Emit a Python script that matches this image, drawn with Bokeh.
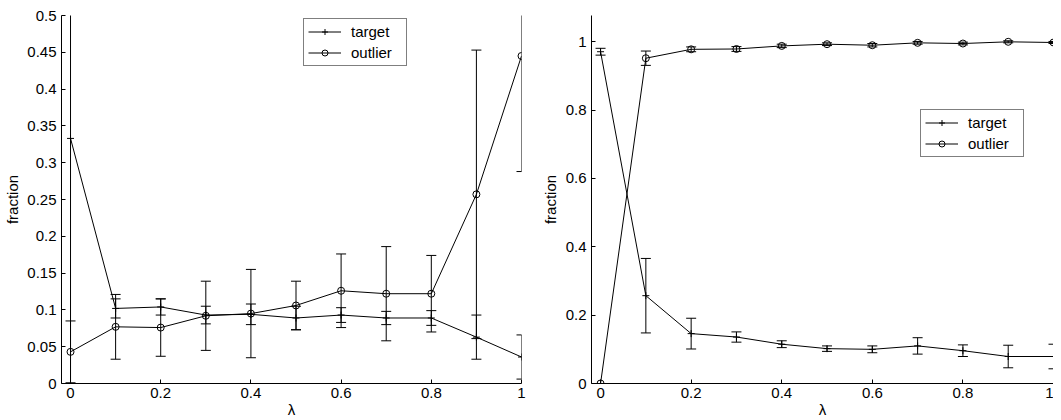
from bokeh.plotting import figure
from bokeh.layouts import row
from bokeh.models import FixedTicker, Legend, LegendItem, ColumnDataSource
from bokeh.embed import file_html
from bokeh.resources import INLINE

# ---------------- data ----------------
lam = [0, 0.1, 0.2, 0.3, 0.4, 0.5, 0.6, 0.7, 0.8, 0.9, 1.0]

left_target = [0.333, 0.102, 0.104, 0.093, 0.094, 0.089, 0.093, 0.089, 0.089, 0.063, 0.036]
left_target_err = [0.35, 0.013, 0.011, 0.012, 0.014, 0.016, 0.010, 0.009, 0.010, 0.030, 0.030]
left_outlier = [0.043, 0.077, 0.076, 0.092, 0.095, 0.106, 0.126, 0.122, 0.122, 0.257, 0.445]
left_outlier_err = [0.042, 0.044, 0.039, 0.047, 0.060, 0.033, 0.050, 0.064, 0.052, 0.196, 0.157]

right_target = [0.971, 0.257, 0.146, 0.136, 0.115, 0.102, 0.100, 0.110, 0.096, 0.079, 0.079]
right_target_err = [0.010, 0.109, 0.045, 0.015, 0.010, 0.008, 0.010, 0.024, 0.017, 0.033, 0.036]
right_outlier = [0.0, 0.952, 0.978, 0.979, 0.988, 0.993, 0.990, 0.997, 0.995, 1.0, 0.998]
right_outlier_err = [0.0, 0.021, 0.007, 0.007, 0.005, 0.004, 0.005, 0.004, 0.004, 0.003, 0.003]

x_ticks = [0, 0.2, 0.4, 0.6, 0.8, 1]
x_tick_labels = ["0", "0.2", "0.4", "0.6", "0.8", "1"]
left_y_ticks = [0, 0.05, 0.1, 0.15, 0.2, 0.25, 0.3, 0.35, 0.4, 0.45, 0.5]
left_y_tick_labels = ["0", "0.05", "0.1", "0.15", "0.2", "0.25", "0.3", "0.35", "0.4", "0.45", "0.5"]
right_y_ticks = [0, 0.2, 0.4, 0.6, 0.8, 1]
right_y_tick_labels = ["0", "0.2", "0.4", "0.6", "0.8", "1"]

series_names = ["target", "outlier"]
x_title = "λ"
y_title = "fraction"

FONT = "Liberation Sans"
FS = "15px"


def make_panel(frame_w, y_range, y_ticks, y_labels, target, target_err, outlier, outlier_err,
               border_left, border_top, border_right, label_standoff, legend_loc):
    p = figure(frame_width=frame_w, height=420, x_range=(-0.02, 1.0), y_range=y_range,
               output_backend="svg", toolbar_location=None,
               min_border_left=border_left, min_border_top=border_top,
               min_border_right=border_right, min_border_bottom=0)
    p.outline_line_color = None
    p.xgrid.visible = False
    p.ygrid.visible = False
    p.background_fill_color = "white"
    p.border_fill_color = "white"

    for ax in (p.xaxis[0], p.yaxis[0]):
        ax.axis_line_color = "black"
        ax.axis_line_width = 1
        ax.major_tick_line_color = "black"
        ax.major_tick_in = 4
        ax.major_tick_out = 0
        ax.minor_tick_line_color = None
        ax.major_label_text_font = FONT
        ax.major_label_text_font_size = FS
        ax.major_label_text_color = "black"
        ax.axis_label_text_font = FONT
        ax.axis_label_text_font_size = FS
        ax.axis_label_text_font_style = "normal"
        ax.axis_label_text_color = "black"

    p.xaxis.ticker = FixedTicker(ticks=x_ticks)
    p.xaxis.major_label_overrides = {t: s for t, s in zip(x_ticks, x_tick_labels)}
    p.xaxis.axis_label = x_title
    p.xaxis.major_label_standoff = 4
    p.xaxis.axis_label_standoff = 0

    p.yaxis.ticker = FixedTicker(ticks=y_ticks)
    p.yaxis.major_label_overrides = {t: s for t, s in zip(y_ticks, y_labels)}
    p.yaxis.axis_label = y_title
    p.yaxis.major_label_standoff = 5
    p.yaxis.axis_label_standoff = label_standoff

    items = []
    for name, vals, errs, marker, msize in (
        (series_names[0], target, target_err, "cross", 7),
        (series_names[1], outlier, outlier_err, "circle", 7),
    ):
        lo = [v - e for v, e in zip(vals, errs)]
        hi = [v + e for v, e in zip(vals, errs)]
        src = ColumnDataSource(dict(x=lam, y=vals, lo=lo, hi=hi))
        p.segment(x0="x", y0="lo", x1="x", y1="hi", source=src,
                  line_color="black", line_width=1)
        p.scatter(x="x", y="lo", source=src, marker="dash", size=10,
                  line_color="black", line_width=1)
        p.scatter(x="x", y="hi", source=src, marker="dash", size=10,
                  line_color="black", line_width=1)
        lr = p.line(x="x", y="y", source=src, line_color="black", line_width=1)
        sr = p.scatter(x="x", y="y", source=src, marker=marker, size=msize,
                       line_color="black", fill_color=None, line_width=1)
        items.append(LegendItem(label=name, renderers=[lr, sr]))

    legend = Legend(items=items, location=legend_loc,
                    label_text_font=FONT, label_text_font_size=FS,
                    label_text_line_height=1.0,
                    label_text_color="black",
                    glyph_width=33, glyph_height=15, label_height=15, label_width=51,
                    label_standoff=10, spacing=4, padding=4, margin=0,
                    border_line_color="black", border_line_width=1,
                    background_fill_color="white", background_fill_alpha=1.0)
    p.add_layout(legend)
    return p


left = make_panel(460, (0, 0.5), left_y_ticks, left_y_tick_labels,
                  left_target, left_target_err, left_outlier, left_outlier_err,
                  border_left=61, border_top=15, border_right=17, label_standoff=3,
                  legend_loc=(242, 317))
right = make_panel(462, (0, 1.077), right_y_ticks, right_y_tick_labels,
                   right_target, right_target_err, right_outlier, right_outlier_err,
                   border_left=53, border_top=15, border_right=0, label_standoff=4,
                   legend_loc=(329, 226))

layout = row(left, right)
open("out.html", "w").write(file_html(layout, INLINE))
